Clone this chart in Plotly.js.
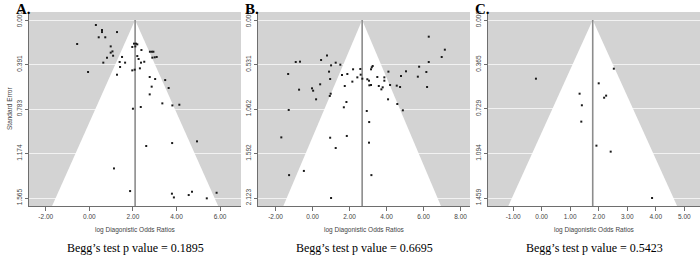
<!DOCTYPE html>
<html>
<head>
<meta charset="utf-8">
<script src="https://cdn.plot.ly/plotly-3.0.1.min.js"></script>
<style>
html,body{margin:0;padding:0;background:#fff;}
#chart{width:700px;height:257px;}
</style>
</head>
<body>
<div id="chart"></div>
<script>
// ---------- Panel A ----------
const A_logDOR = [0.30,0.58,0.58,1.27,0.43,0.73,-0.56,0.98,1.06,0.98,1.09,0.81,0.64,-0.06,1.39,1.64,1.50,1.41,1.27,
  2.05,2.14,2.20,1.97,2.11,2.39,2.20,2.26,2.37,2.52,2.32,1.97,2.08,2.78,2.87,2.94,2.89,3.00,3.09,2.77,3.02,3.48,2.86,3.64,2.77,3.35,3.81,4.13,2.00,2.36,
  2.61,3.80,4.94,1.13,1.87,3.79,3.88,4.56,4.71,5.39,5.84];
const A_se = [0.044,0.088,0.106,0.106,0.152,0.152,0.211,0.232,0.276,0.287,0.314,0.331,0.375,0.457,0.369,0.375,0.325,0.413,0.481,
  0.208,0.208,0.214,0.237,0.232,0.264,0.317,0.343,0.375,0.367,0.425,0.443,0.437,0.279,0.279,0.279,0.331,0.328,0.325,0.501,0.519,0.528,0.586,0.598,0.654,0.733,0.751,0.745,0.780,0.765,
  1.108,1.082,1.067,1.305,1.504,1.527,1.560,1.539,1.510,1.568,1.519];
const A_center = 2.10;
const A_funnelMult = 2.33;
const A_yTickVals = [0, 0.391, 0.783, 1.174, 1.565];
const A_yTickText = ["0.000","0.391","0.783","1.174","1.565"];
const A_xTickVals = [-2, 0, 2, 4, 6];
const A_xTickText = ["-2.00","0.00","2.00","4.00","6.00"];
const A_pvalue = "0.1895";

// ---------- Panel B ----------
const B_logDOR = [6.28,7.15,6.98,6.28,5.76,6.15,5.69,6.19,5.05,4.78,4.10,4.55,4.73,0.78,0.46,-0.91,-0.68,1.00,1.25,1.50,-1.32,0.89,0.95,0.41,-0.73,-0.03,0.03,0.19,0.98,0.93,-1.29,
  1.59,1.88,2.19,2.42,2.58,2.60,2.15,2.69,1.74,3.16,3.20,3.25,2.96,3.05,3.07,3.16,3.50,3.58,3.72,3.79,3.88,3.88,4.19,4.08,4.58,4.88,1.83,1.69,2.93,
  -1.69,0.95,1.85,1.25,3.06,3.05,-1.27,-0.47,3.18,1.00];
const B_se = [0.199,0.354,0.441,0.501,0.557,0.620,0.676,0.799,0.612,0.668,0.616,0.783,0.799,0.422,0.477,0.501,0.497,0.541,0.509,0.533,0.644,0.616,0.704,0.767,0.831,0.815,0.843,0.946,0.879,0.906,1.073,
  0.656,0.644,0.588,0.684,0.584,0.652,0.735,0.700,0.787,0.588,0.564,0.549,0.707,0.724,0.779,0.775,0.680,0.787,0.827,0.803,0.684,0.724,0.775,0.946,1.002,1.077,0.978,1.041,1.085,
  1.400,1.404,1.383,1.527,1.217,1.463,1.850,1.800,1.850,2.123];
const B_center = 2.68;
const B_funnelMult = 1.92;
const B_yTickVals = [0, 0.531, 1.062, 1.592, 2.123];
const B_yTickText = ["0.000","0.531","1.062","1.592","2.123"];
const B_xTickVals = [-2, 0, 2, 4, 6, 8];
const B_xTickText = ["-2.00","0.00","2.00","4.00","6.00","8.00"];
const B_pvalue = "0.6695";

// ---------- Panel C ----------
const C_logDOR = [-0.20,2.53,2.00,1.33,2.19,2.26,1.41,1.39,1.92,2.42,3.87];
const C_se = [0.481,0.399,0.519,0.604,0.637,0.620,0.699,0.833,1.030,1.079,1.459];
const C_center = 1.79;
const C_funnelMult = 1.94;
const C_yTickVals = [0, 0.365, 0.729, 1.094, 1.459];
const C_yTickText = ["0.000","0.365","0.729","1.094","1.459"];
const C_xTickVals = [-1, 0, 1, 2, 3, 4, 5];
const C_xTickText = ["-1.00","0.00","1.00","2.00","3.00","4.00","5.00"];
const C_pvalue = "0.5423";

const panelLabels = ["A.","B.","C."];
const xTitle = "log Diagonistic Odds Ratios";
const yTitle = "Standard Error";

// ---------- Layout geometry ----------
const W = 700, H = 257;
const panels = [
  {x:A_logDOR, se:A_se, c:A_center, m:A_funnelMult, yv:A_yTickVals, yt:A_yTickText, xv:A_xTickVals, xt:A_xTickText, p:A_pvalue,
   px:[29,241], xr:[-2.77,6.96], seMax:1.565},
  {x:B_logDOR, se:B_se, c:B_center, m:B_funnelMult, yv:B_yTickVals, yt:B_yTickText, xv:B_xTickVals, xt:B_xTickText, p:B_pvalue,
   px:[258,470], xr:[-2.95,8.51], seMax:2.123},
  {x:C_logDOR, se:C_se, c:C_center, m:C_funnelMult, yv:C_yTickVals, yt:C_yTickText, xv:C_xTickVals, xt:C_xTickText, p:C_pvalue,
   px:[488,700], xr:[-1.88,5.55], seMax:1.459}
];
const plotTop = 12, plotBot = 206, tick0 = 20, tickLast = 198;

const data = [];
const layout = {
  width: W, height: H,
  margin: {l:0, r:0, t:0, b:0},
  paper_bgcolor: '#ffffff',
  plot_bgcolor: '#d3d3d3',
  showlegend: false,
  annotations: [],
  font: {family: 'Liberation Sans, Arial, sans-serif', size: 7, color: '#444'}
};

panels.forEach((P, i) => {
  const n = i === 0 ? '' : String(i + 1);
  const xa = 'x' + n, ya = 'y' + n;
  const perPx = P.seMax / (tickLast - tick0);
  const yLo = -(tick0 - plotTop) * perPx;
  const yHi = P.seMax + (plotBot - tickLast) * perPx;

  // funnel (white triangle)
  data.push({
    type: 'scatter', mode: 'lines', xaxis: xa, yaxis: ya,
    x: [P.c - P.m * yHi, P.c, P.c + P.m * yHi, P.c - P.m * yHi],
    y: [yHi, 0, yHi, yHi],
    fill: 'toself', fillcolor: '#ffffff', line: {width: 0, color: '#ffffff'},
    hoverinfo: 'skip'
  });
  // center line
  data.push({
    type: 'scatter', mode: 'lines', xaxis: xa, yaxis: ya,
    x: [P.c, P.c], y: [0, yHi],
    line: {color: '#8c8c8c', width: 1.6}, hoverinfo: 'skip'
  });
  // studies
  data.push({
    type: 'scatter', mode: 'markers', xaxis: xa, yaxis: ya,
    x: P.x, y: P.se,
    marker: {symbol: 'square', size: 2, color: '#1a1a1a', line: {width: 0}}
  });

  const xd = [P.px[0] / W, P.px[1] / W];
  const yd = [1 - plotBot / H, 1 - plotTop / H];
  layout['xaxis' + n] = {
    domain: xd, range: P.xr, anchor: ya,
    tickvals: P.xv, ticktext: P.xt, showgrid: false, zeroline: false,
    showline: true, linecolor: '#6e6e6e', linewidth: 1,
    ticks: 'outside', ticklen: 4, tickcolor: '#6e6e6e', tickwidth: 1,
    tickfont: {size: 6.5, color: '#444', family: 'Liberation Sans, Arial, sans-serif'}
  };
  layout['yaxis' + n] = {
    domain: yd, range: [yHi, yLo], anchor: xa,
    tickvals: P.yv, ticktext: P.yt, tickangle: -90,
    showgrid: true, gridcolor: '#f2f2f2', gridwidth: 1, zeroline: false,
    showline: true, linecolor: '#6e6e6e', linewidth: 1,
    ticks: 'outside', ticklen: 3, tickcolor: '#6e6e6e', tickwidth: 1,
    tickfont: {size: 6.5, color: '#444', family: 'Liberation Sans, Arial, sans-serif'}
  };

  const cx = (P.px[0] + P.px[1]) / 2 / W;
  layout.annotations.push({
    xref: 'paper', yref: 'paper', x: cx, y: 1 - 230 / H, xanchor: 'center', yanchor: 'middle',
    text: xTitle, showarrow: false, font: {size: 6.5, color: '#444', family: 'Liberation Sans, Arial, sans-serif'}
  });
  layout.annotations.push({
    xref: 'paper', yref: 'paper', x: cx, y: 1 - 248 / H, xanchor: 'center', yanchor: 'middle',
    text: "Begg\u2019s test p value = " + P.p, showarrow: false,
    font: {size: 12, color: '#000', family: 'Liberation Serif, Times New Roman, serif'}
  });
  layout.annotations.push({
    xref: 'paper', yref: 'paper', x: (P.px[0] - 14) / W, y: 1, xanchor: 'left', yanchor: 'top',
    text: '<b>' + panelLabels[i] + '</b>', showarrow: false, borderpad: 0,
    font: {size: 15, color: '#000', family: 'Liberation Serif, Times New Roman, serif'}
  });
});

layout.annotations.push({
  xref: 'paper', yref: 'paper', x: 9 / W, y: 1 - 109 / H, xanchor: 'center', yanchor: 'middle',
  text: yTitle, textangle: -90, showarrow: false,
  font: {size: 6.5, color: '#444', family: 'Liberation Sans, Arial, sans-serif'}
});

Plotly.newPlot('chart', data, layout, {displayModeBar: false, staticPlot: true});
</script>
</body>
</html>
